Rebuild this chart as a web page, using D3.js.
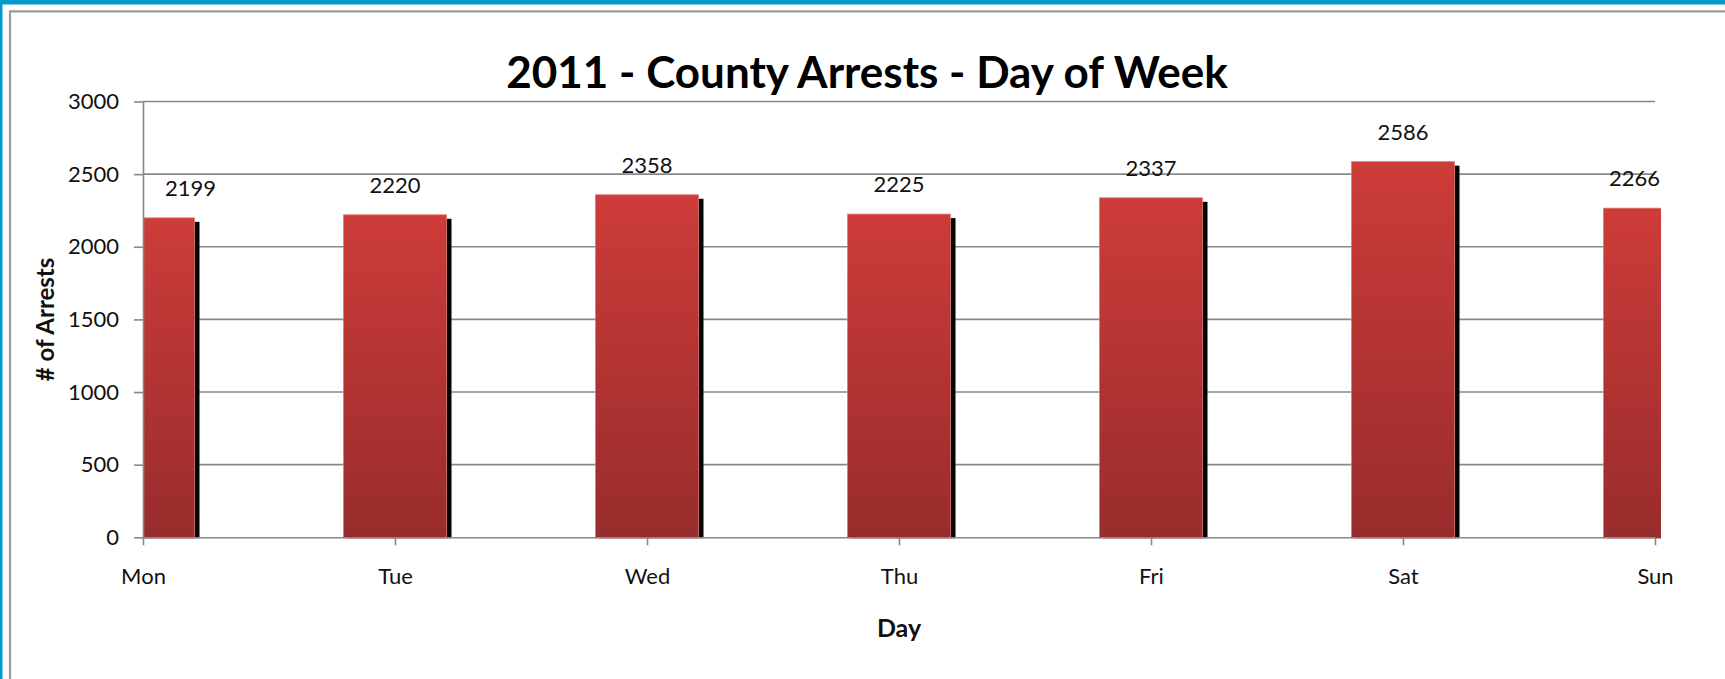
<!DOCTYPE html>
<html>
<head>
<meta charset="utf-8">
<script src="https://cdn.jsdelivr.net/npm/d3@7.9.0/dist/d3.min.js"></script>
<style>
  html, body { margin: 0; padding: 0; background: #fff; }
  svg { display: block; font-family: Lato, 'Open Sans', sans-serif; }
</style>
</head>
<body>
<svg id="chart"></svg>
<script>
// values
const days = ['Mon', 'Tue', 'Wed', 'Thu', 'Fri', 'Sat', 'Sun'];
const arrests = [2199, 2220, 2358, 2225, 2337, 2586, 2266];
const yTicks = [0, 500, 1000, 1500, 2000, 2500, 3000];

const width = 1725;
const height = 679;
const margin = { top: 101.5, right: 70, bottom: 141.7, left: 143 };
const plotBottom = height - margin.bottom;
const plotRight = width - margin.right;
const barWidth = 103;

const svg = d3.select('#chart').attr('width', width).attr('height', height);

// screenshot frame: blue edge, then grey chart border
svg.append('rect').attr('width', width).attr('height', height).attr('fill', '#fff');
svg.append('rect').attr('x', 0).attr('y', 0).attr('width', width).attr('height', 4.5).attr('fill', '#0099cc');
svg.append('rect').attr('x', 0).attr('y', 0).attr('width', 2.5).attr('height', height).attr('fill', '#0099cc');
svg.append('path')
  .attr('d', `M10,${height} V11.3 H${width}`)
  .attr('fill', 'none')
  .attr('stroke', '#9a9a9a')
  .attr('stroke-width', 2.2);

const x = d3.scalePoint().domain(days).range([margin.left, plotRight]);
const y = d3.scaleLinear().domain([0, 3000]).range([plotBottom, margin.top]);

const defs = svg.append('defs');
const grad = defs.append('linearGradient')
  .attr('id', 'barFill')
  .attr('x1', 0).attr('y1', 0).attr('x2', 0).attr('y2', 1);
grad.append('stop').attr('offset', '0%').attr('stop-color', '#cd3c39');
grad.append('stop').attr('offset', '100%').attr('stop-color', '#982c2c');

// bars are cut off at the ends of the category axis
defs.append('clipPath').attr('id', 'plotClip')
  .append('rect')
  .attr('x', margin.left)
  .attr('y', 0)
  .attr('width', plotRight + 6 - margin.left)
  .attr('height', plotBottom + 1);

// gridlines
svg.append('g')
  .selectAll('line')
  .data(yTicks.filter((d) => d > 0))
  .join('line')
  .attr('x1', margin.left)
  .attr('x2', plotRight)
  .attr('y1', (d) => y(d))
  .attr('y2', (d) => y(d))
  .attr('stroke', '#888')
  .attr('stroke-width', 1.6);

const bars = svg.append('g').attr('clip-path', 'url(#plotClip)');

// black drop shadow offset to the lower right
bars.selectAll('rect.shadow')
  .data(arrests)
  .join('rect')
  .attr('class', 'shadow')
  .attr('x', (d, i) => x(days[i]) - barWidth / 2 + 5)
  .attr('y', (d) => y(d) + 4)
  .attr('width', barWidth)
  .attr('height', (d) => plotBottom - y(d))
  .attr('fill', '#050505');

bars.selectAll('rect.bar')
  .data(arrests)
  .join('rect')
  .attr('class', 'bar')
  .attr('x', (d, i) => x(days[i]) - barWidth / 2)
  .attr('y', (d) => y(d))
  .attr('width', barWidth)
  .attr('height', (d) => plotBottom - y(d) + 1)
  .attr('fill', 'url(#barFill)')
  .attr('stroke', '#e07a78')
  .attr('stroke-width', 0.8);

// axes
const yAxis = d3.axisLeft(y).tickValues(yTicks).tickFormat(d3.format('d')).tickSize(9).tickPadding(15);
const xAxis = d3.axisBottom(x).tickSize(8).tickPadding(23);

const yG = svg.append('g')
  .attr('transform', `translate(${margin.left},0)`)
  .call(yAxis);

const xG = svg.append('g')
  .attr('transform', `translate(0,${plotBottom})`)
  .call(xAxis);

[yG, xG].forEach((g) => {
  g.select('.domain').attr('stroke', '#888').attr('stroke-width', 1.6);
  g.selectAll('.tick line').attr('stroke', '#888').attr('stroke-width', 1.6);
  g.selectAll('.tick text')
    .attr('fill', '#111')
    .style('font-size', '22px')
    .style('font-family', 'Lato, sans-serif');
});
// y axis line only, no outer tick caps
yG.select('.domain').attr('d', `M0.5,${y(3000)}V${plotBottom}`);
xG.select('.domain').attr('d', `M${margin.left},0.5H${plotRight}`);
xG.selectAll('.tick text').attr('dy', '0.71em');

// value labels above the bars, kept inside the plot area
const labels = svg.append('g')
  .selectAll('text')
  .data(arrests)
  .join('text')
  .attr('y', (d) => y(d) - 22)
  .attr('text-anchor', 'middle')
  .attr('fill', '#111')
  .style('font-size', '22px')
  .text((d) => d);

labels.attr('x', function (d, i) {
  const w = this.getComputedTextLength();
  const cx = x(days[i]);
  return Math.min(Math.max(cx, margin.left + 22 + w / 2), plotRight + 5 - w / 2);
});

// titles
svg.append('text')
  .attr('x', 867)
  .attr('y', 88)
  .attr('text-anchor', 'middle')
  .attr('fill', '#000')
  .style('font-size', '44px')
  .style('font-weight', 'bold')
  .text('2011 - County Arrests - Day of Week');

svg.append('text')
  .attr('x', (margin.left + plotRight) / 2)
  .attr('y', 637)
  .attr('text-anchor', 'middle')
  .attr('fill', '#111')
  .style('font-size', '25px')
  .style('font-weight', 'bold')
  .text('Day');

svg.append('text')
  .attr('transform', `translate(54,${(margin.top + plotBottom) / 2}) rotate(-90)`)
  .attr('text-anchor', 'middle')
  .attr('fill', '#111')
  .style('font-size', '24px')
  .style('font-weight', 'bold')
  .text('# of Arrests');
</script>
</body>
</html>
